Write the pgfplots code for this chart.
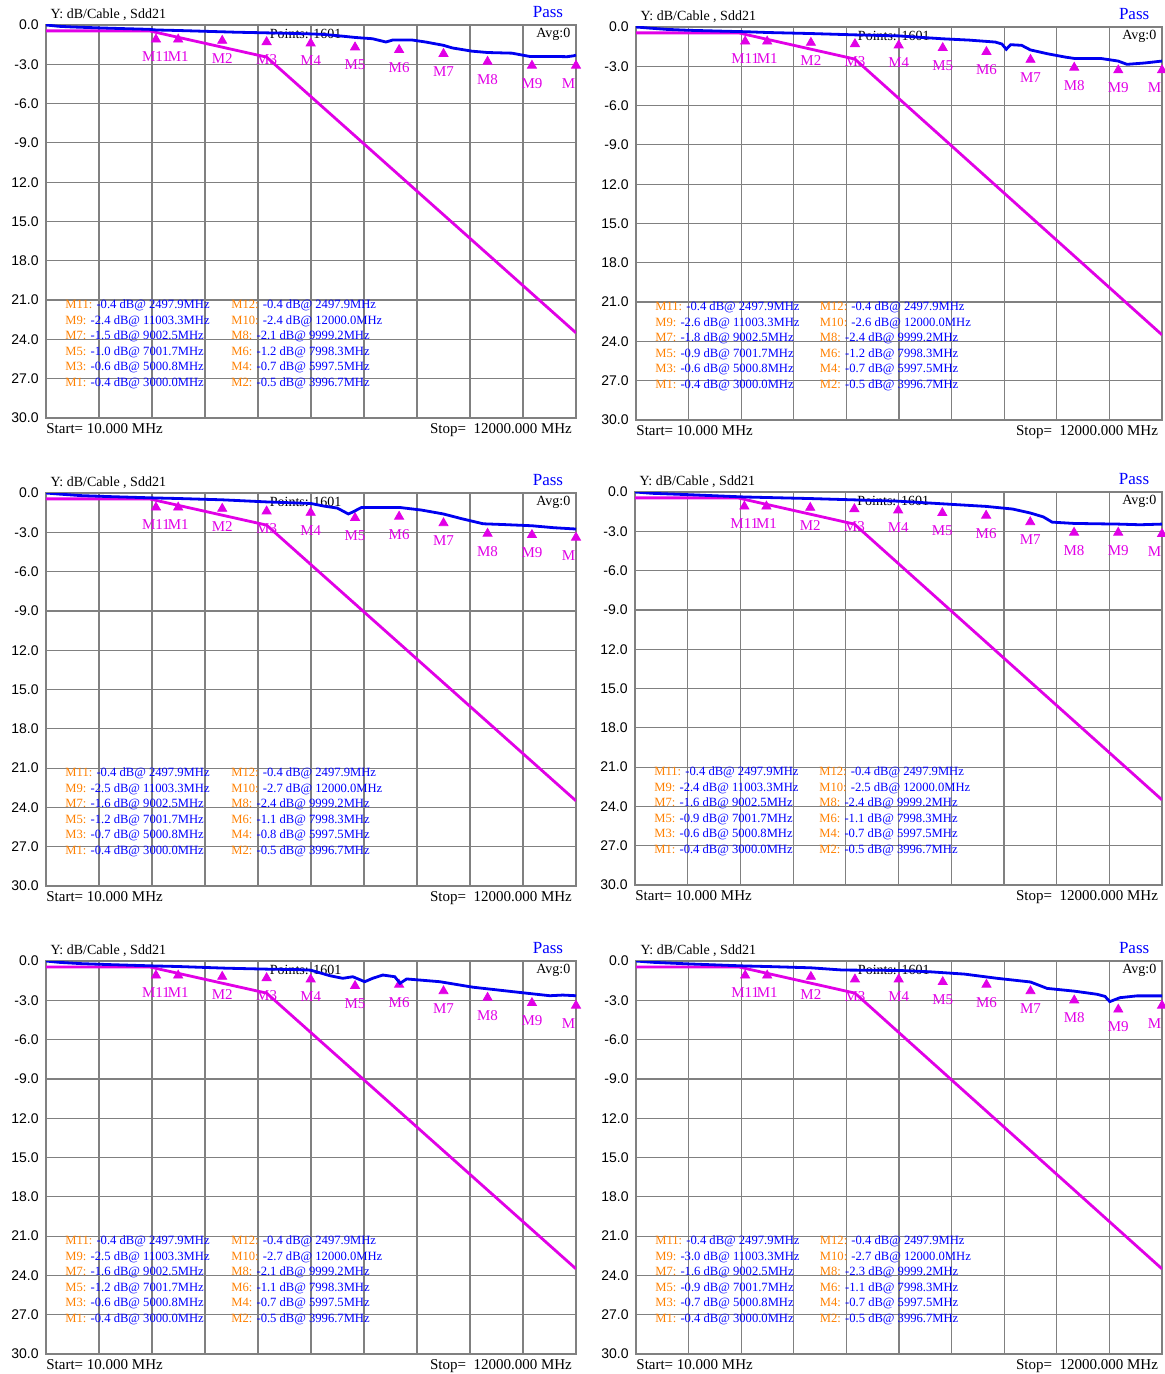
\documentclass[border=0pt]{standalone}
\usepackage{pgfplots}
\pgfplotsset{compat=1.18}
\usepackage{pgfplotstable}
\usepackage{fontspec}
\setmainfont{Liberation Serif}
\setsansfont{Liberation Sans}

\definecolor{mag}{RGB}{225,0,230}
\definecolor{trc}{RGB}{0,0,240}
\definecolor{mko}{RGB}{255,128,0}
\definecolor{gridc}{RGB}{128,128,128}
\definecolor{txtb}{RGB}{0,0,255}

\newcommand{\fs}[1]{\fontsize{#1}{#1}\selectfont}

% limit line (same in all panels)
\pgfplotstableread{
f v
10 -0.45
2350 -0.45
5000 -2.45
12000 -23.5
}\limit

% ---------------- traces ----------------
\pgfplotstableread{
f v
10 0.0
300 -0.1
600 -0.15
1200 -0.22
1800 -0.28
2350 -0.33
2500 -0.38
3000 -0.42
3300 -0.45
4000 -0.52
4300 -0.55
5000 -0.6
5300 -0.62
6000 -0.68
6300 -0.72
6800 -0.88
7000 -0.95
7400 -1.05
7700 -1.3
7850 -1.15
8300 -1.15
8600 -1.3
9000 -1.55
9200 -1.75
9650 -2.0
10000 -2.1
10550 -2.15
10950 -2.4
11500 -2.4
11800 -2.42
11950 -2.35
12000 -2.3
}\trA

\pgfplotstableread{
f v
10 0.0
300 -0.08
700 -0.18
1200 -0.25
2000 -0.32
2500 -0.36
3000 -0.42
4000 -0.5
5000 -0.6
6000 -0.68
7000 -0.9
7600 -1.0
8200 -1.15
8350 -1.3
8450 -1.7
8550 -1.35
8800 -1.4
9000 -1.75
9400 -2.05
9800 -2.3
10000 -2.4
10600 -2.4
11000 -2.6
11200 -2.85
11600 -2.75
12000 -2.6
}\trB

\pgfplotstableread{
f v
10 0.0
300 -0.08
800 -0.2
1500 -0.28
2500 -0.38
3000 -0.42
4000 -0.52
5000 -0.68
5600 -0.75
6000 -0.8
6300 -1.0
6600 -1.15
6850 -1.6
6950 -1.45
7150 -1.1
7500 -1.1
8000 -1.1
8500 -1.3
9000 -1.6
9400 -1.95
9900 -2.35
10300 -2.4
11000 -2.5
11500 -2.65
12000 -2.75
}\trC

\pgfplotstableread{
f v
10 0.0
400 -0.1
1200 -0.2
2500 -0.38
3000 -0.42
4000 -0.5
5000 -0.6
6000 -0.7
7000 -0.9
8000 -1.1
8600 -1.3
9000 -1.6
9300 -1.9
9500 -2.3
10000 -2.4
11000 -2.45
11500 -2.5
12000 -2.45
}\trD

\pgfplotstableread{
f v
10 0.0
300 -0.1
800 -0.2
1500 -0.28
2500 -0.38
3000 -0.42
4100 -0.55
5000 -0.62
5750 -0.66
6000 -0.7
6430 -1.12
6725 -1.32
6950 -1.2
7220 -1.58
7400 -1.32
7630 -1.07
7900 -1.2
8020 -1.7
8170 -1.37
8920 -1.58
9670 -2.0
10570 -2.34
11000 -2.5
11410 -2.65
11700 -2.6
12000 -2.65
}\trE

\pgfplotstableread{
f v
10 0.0
400 -0.1
1200 -0.22
2500 -0.38
3000 -0.42
4000 -0.52
4720 -0.69
6000 -0.72
6700 -0.82
7500 -1.0
8240 -1.32
9000 -1.6
9380 -2.09
10000 -2.3
10520 -2.54
10700 -2.7
10810 -3.1
11040 -2.8
11430 -2.66
12000 -2.66
}\trF

% ---------------- markers ----------------
\newcommand{\Mten}{M\phantom{10}}
\pgfplotstableread{
f v lab
2497.9 -0.4 M11
3000.0 -0.4 M1
3996.7 -0.5 M2
5000.8 -0.6 M3
5997.5 -0.7 M4
7001.7 -1.0 M5
7998.3 -1.2 M6
9002.5 -1.5 M7
9999.2 -2.1 M8
11003.3 -2.4 M9
12000.0 -2.4 \Mten
}\mkA
\pgfplotstableread{
f v lab
2497.9 -0.4 M11
3000.0 -0.4 M1
3996.7 -0.5 M2
5000.8 -0.6 M3
5997.5 -0.7 M4
7001.7 -0.9 M5
7998.3 -1.2 M6
9002.5 -1.8 M7
9999.2 -2.4 M8
11003.3 -2.6 M9
12000.0 -2.6 \Mten
}\mkB
\pgfplotstableread{
f v lab
2497.9 -0.4 M11
3000.0 -0.4 M1
3996.7 -0.5 M2
5000.8 -0.7 M3
5997.5 -0.8 M4
7001.7 -1.2 M5
7998.3 -1.1 M6
9002.5 -1.6 M7
9999.2 -2.4 M8
11003.3 -2.5 M9
12000.0 -2.7 \Mten
}\mkC
\pgfplotstableread{
f v lab
2497.9 -0.4 M11
3000.0 -0.4 M1
3996.7 -0.5 M2
5000.8 -0.6 M3
5997.5 -0.7 M4
7001.7 -0.9 M5
7998.3 -1.1 M6
9002.5 -1.6 M7
9999.2 -2.4 M8
11003.3 -2.4 M9
12000.0 -2.5 \Mten
}\mkD
\pgfplotstableread{
f v lab
2497.9 -0.4 M11
3000.0 -0.4 M1
3996.7 -0.5 M2
5000.8 -0.6 M3
5997.5 -0.7 M4
7001.7 -1.2 M5
7998.3 -1.1 M6
9002.5 -1.6 M7
9999.2 -2.1 M8
11003.3 -2.5 M9
12000.0 -2.7 \Mten
}\mkE
\pgfplotstableread{
f v lab
2497.9 -0.4 M11
3000.0 -0.4 M1
3996.7 -0.5 M2
5000.8 -0.7 M3
5997.5 -0.7 M4
7001.7 -0.9 M5
7998.3 -1.1 M6
9002.5 -1.6 M7
9999.2 -2.3 M8
11003.3 -3.0 M9
12000.0 -2.7 \Mten
}\mkF

% marker readout table
\newcommand{\mrow}[5]{\node[anchor=west,inner sep=0pt,font=\fs{6.3}] at (rel axis cs:#1,#2)
  {\textcolor{mko}{#3: }\textcolor{txtb}{#4 dB@ #5MHz}};}
\newcommand{\mtab}[8]{%
  \mrow{0.036}{0.287}{M11}{-0.4}{2497.9}
  \mrow{0.349}{0.287}{M12}{-0.4}{2497.9}
  \mrow{0.036}{0.247}{M9}{#1}{11003.3}
  \mrow{0.349}{0.247}{M10}{#2}{12000.0}
  \mrow{0.036}{0.208}{M7}{#3}{9002.5}
  \mrow{0.349}{0.208}{M8}{#4}{9999.2}
  \mrow{0.036}{0.168}{M5}{#5}{7001.7}
  \mrow{0.349}{0.168}{M6}{#6}{7998.3}
  \mrow{0.036}{0.128}{M3}{#7}{5000.8}
  \mrow{0.349}{0.128}{M4}{#8}{5997.5}
  \mrow{0.036}{0.089}{M1}{-0.4}{3000.0}
  \mrow{0.349}{0.089}{M2}{-0.5}{3996.7}}

\pgfplotsset{common/.style={
  scale only axis,
  xmin=10, xmax=12000, ymin=-30, ymax=0,
  xtick={10,1209,2408,3607,4806,6005,7204,8403,9602,10801,12000},
  xticklabels={},
  scaled x ticks=false,
  ytick={-30,-27,-24,-21,-18,-15,-12,-9,-6,-3,0},
  yticklabels={30.0,27.0,24.0,21.0,18.0,15.0,12.0,-9.0,-6.0,-3.0,0.0},
  yticklabel style={font=\sffamily\fs{7}, inner sep=0pt, anchor=east, xshift=-3.5pt},
  grid=major,
  major grid style={gridc, line width=0.6pt},
  axis line style={gridc, line width=0.6pt},
  major tick length=0pt,
  clip mode=individual,
}}

\newcommand{\panel}[7]{%
\begin{axis}[common, at={(#1,#2)}, anchor=north west, width=#3, height=196.5pt]
  \node[anchor=south west, inner sep=0pt, font=\fs{7}] at (rel axis cs:0.008,1.01) {Y: dB/Cable , Sdd21};
  \node[anchor=south, inner sep=0pt, font=\fs{8.5}, text=txtb] at (rel axis cs:0.947,1.017) {Pass};
  \node[anchor=east, inner sep=0pt, font=\fs{7}] at (rel axis cs:0.99,0.977) {Avg:0};
  \node[inner sep=0pt, font=\fs{7}] at (rel axis cs:0.49,0.977) {Points: 1601};
  \node[anchor=north west, inner sep=0pt, font=\fs{7.5}] at (rel axis cs:0,-0.012) {Start= 10.000 MHz};
  \node[anchor=north east, inner sep=0pt, font=\fs{7.5}] at (rel axis cs:0.993,-0.012) {Stop=\ \ 12000.000 MHz};
  #7
  \addplot[mag, only marks, mark=triangle*, mark size=2.6pt,
    nodes near coords, point meta=explicit symbolic,
    every node near coord/.style={anchor=center, yshift=-8.8pt, font=\fs{7.5}, text=mag, inner sep=0pt}]
    table[x=f, y expr=\thisrow{v}-0.7, meta=lab] {#6};
  \addplot[mag, line width=1.4pt, mark=none] table[x=f,y=v] {\limit};
  \addplot[trc, line width=1.4pt, mark=none] table[x=f,y=v] {#5};
\end{axis}}

\begin{document}
\begin{tikzpicture}
\useasboundingbox (0,0) rectangle (582.5pt,-687pt);
\panel{23pt}{-12.5pt}{265pt}{}{\trA}{\mkA}{\mtab{-2.4}{-2.4}{-1.5}{-2.1}{-1.0}{-1.2}{-0.6}{-0.7}}
\panel{318pt}{-13.5pt}{263pt}{}{\trB}{\mkB}{\mtab{-2.6}{-2.6}{-1.8}{-2.4}{-0.9}{-1.2}{-0.6}{-0.7}}
\panel{23pt}{-246.5pt}{265pt}{}{\trC}{\mkC}{\mtab{-2.5}{-2.7}{-1.6}{-2.4}{-1.2}{-1.1}{-0.7}{-0.8}}
\panel{317.5pt}{-246pt}{263.5pt}{}{\trD}{\mkD}{\mtab{-2.4}{-2.5}{-1.6}{-2.4}{-0.9}{-1.1}{-0.6}{-0.7}}
\panel{23pt}{-480.5pt}{265pt}{}{\trE}{\mkE}{\mtab{-2.5}{-2.7}{-1.6}{-2.1}{-1.2}{-1.1}{-0.6}{-0.7}}
\panel{318pt}{-480.5pt}{263pt}{}{\trF}{\mkF}{\mtab{-3.0}{-2.7}{-1.6}{-2.3}{-0.9}{-1.1}{-0.7}{-0.7}}
\end{tikzpicture}
\end{document}
